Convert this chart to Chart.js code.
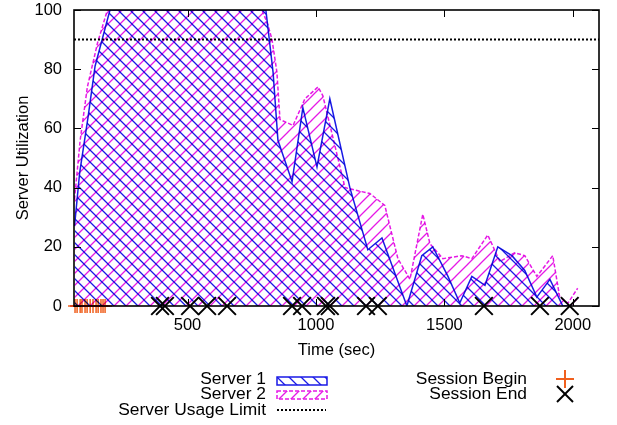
<!DOCTYPE html>
<html>
<head>
<meta charset="utf-8">
<script src="https://cdn.jsdelivr.net/npm/chart.js@4/dist/chart.umd.min.js"></script>
<style>
  html, body { margin:0; padding:0; background:#fff; }
  #wrap { position:relative; width:617px; height:425px; font-family:"Liberation Sans", Arial, sans-serif; }
  #c { position:absolute; left:0; top:0; }
  .lg { position:absolute; font-size:17.4px; line-height:15px; color:#000; white-space:nowrap; text-align:right; }
  .sw { position:absolute; }
</style>
</head>
<body>
<div id="wrap">
  <canvas id="c" width="617" height="425"></canvas>
  <div class="lg" style="right:351px; top:371px;">Server 1</div>
  <div class="lg" style="right:351px; top:386px;">Server 2</div>
  <div class="lg" style="right:351px; top:402px;">Server Usage Limit</div>
  <div class="lg" style="right:90px; top:371px;">Session Begin</div>
  <div class="lg" style="right:90px; top:386px;">Session End</div>
  <canvas class="sw" id="sw1" width="52" height="10" style="left:276px; top:376px;"></canvas>
  <canvas class="sw" id="sw2" width="52" height="10" style="left:276px; top:390px;"></canvas>
  <svg class="sw" width="52" height="6" style="left:276px; top:407px;"><line x1="1" y1="3" x2="50" y2="3" stroke="#000" stroke-width="2" stroke-dasharray="2,2"/></svg>
  <svg class="sw" width="22" height="22" style="left:554px; top:368px;"><line x1="11" y1="2" x2="11" y2="20" stroke="#f0601e" stroke-width="2"/><line x1="2" y1="11" x2="20" y2="11" stroke="#f0601e" stroke-width="2"/></svg>
  <svg class="sw" width="22" height="22" style="left:554px; top:383px;"><line x1="3" y1="3" x2="19" y2="19" stroke="#000" stroke-width="2"/><line x1="19" y1="3" x2="3" y2="19" stroke="#000" stroke-width="2"/></svg>
</div>
<script>
// ---- data ----
const server1Times = [60, 80, 113, 140, 198, 805, 833, 852, 907, 949, 1004, 1054, 1132, 1202, 1257, 1354, 1412, 1455, 1514, 1560, 1607, 1658, 1708, 1763, 1813, 1860, 1911, 1961, 1990];
const server1Util  = [27, 45, 64, 81, 100, 100, 79, 56, 42, 67, 47, 70, 40, 19, 23, 0, 17, 20, 10, 1, 10, 7, 20, 17, 12, 3, 9, 0, 0];
const server2Times = [60, 82, 110, 150, 188, 790, 813, 829, 848, 860, 911, 957, 1008, 1027, 1113, 1160, 1210, 1268, 1319, 1366, 1416, 1444, 1494, 1568, 1607, 1669, 1716, 1774, 1813, 1860, 1922, 1949, 1981, 2019];
const server2Util  = [36, 56, 74, 89, 100, 100, 95, 90, 79, 63, 61, 70, 74, 71, 40, 39, 38, 34, 16, 9, 31, 21, 16, 17, 16, 24, 15, 18, 17, 10, 17, 3, 1, 6];
const sessionBegin = [62, 70, 82, 89, 101, 109, 121, 132, 144, 152, 163, 171, 179];
const sessionEnd   = [393, 412, 510, 576, 654, 907, 946, 1039, 1054, 1195, 1241, 1654, 1872, 1988];
const usageLimit = 90;
const xRange = [58, 2102];
const xTicks = [500, 1000, 1500, 2000];
const yTicks = [0, 20, 40, 60, 80, 100];

const BLUE = '#1a1ae6';
const MAGENTA = '#e619e6';
const ORANGE = '#f0601e';

const ctx = document.getElementById('c').getContext('2d');

function hatchTile(color, dir) {
  const s = 12;
  const cv = document.createElement('canvas');
  cv.width = s; cv.height = s;
  const g = cv.getContext('2d');
  g.fillStyle = '#ffffff';
  g.fillRect(0, 0, s, s);
  g.strokeStyle = color; g.lineWidth = 1.3;
  g.beginPath();
  for (const o of [-s, 0, s]) {
    if (dir === 'back') { g.moveTo(o - 1, -1); g.lineTo(o + s + 1, s + 1); }
    else { g.moveTo(o - 1, s + 1); g.lineTo(o + s + 1, -1); }
  }
  g.stroke();
  return cv;
}
const tile1 = hatchTile(BLUE, 'back');
const tile2 = hatchTile(MAGENTA, 'fwd');
const pat1 = ctx.createPattern(tile1, 'repeat');
const pat2 = ctx.createPattern(tile2, 'repeat');

// legend swatches
(function(){
  const a = document.getElementById('sw1').getContext('2d');
  a.fillStyle = a.createPattern(tile1, 'repeat'); a.fillRect(1,1,50,8);
  a.strokeStyle = BLUE; a.lineWidth = 1.5; a.strokeRect(1,1,50,8);
  const b = document.getElementById('sw2').getContext('2d');
  b.fillStyle = b.createPattern(tile2, 'repeat'); b.fillRect(1,1,50,8);
  b.strokeStyle = MAGENTA; b.lineWidth = 1.5; b.setLineDash([4,2]); b.strokeRect(1,1,50,8);
})();

const zip = (xs, ys) => xs.map((x, i) => ({x, y: ys[i]}));

const frame = {
  id: 'frame',
  beforeDatasetsDraw(chart) {
    const {ctx, chartArea: a, scales: {x, y}} = chart;
    ctx.save();
    ctx.strokeStyle = '#000'; ctx.lineWidth = 1;
    ctx.beginPath();
    for (const v of xTicks) {
      const px = Math.round(x.getPixelForValue(v)) + 0.5;
      ctx.moveTo(px, a.bottom); ctx.lineTo(px, a.bottom - 7);
      ctx.moveTo(px, a.top); ctx.lineTo(px, a.top + 7);
    }
    for (const v of yTicks) {
      const py = Math.round(y.getPixelForValue(v)) + 0.5;
      ctx.moveTo(a.left, py); ctx.lineTo(a.left + 7, py);
      ctx.moveTo(a.right, py); ctx.lineTo(a.right - 7, py);
    }
    ctx.stroke();
    ctx.restore();
    ctx.imageSmoothingEnabled = false;
    ctx.globalCompositeOperation = 'multiply';
  },
  afterDatasetsDraw(chart) {
    const {ctx, chartArea: a} = chart;
    ctx.globalCompositeOperation = 'source-over';
    ctx.save();
    ctx.strokeStyle = '#000'; ctx.lineWidth = 1.6;
    ctx.strokeRect(a.left, a.top, a.right - a.left, a.bottom - a.top);
    ctx.restore();
  }
};

const FONT = { family: '"Liberation Sans", Arial, sans-serif', size: 16.5 };

new Chart(ctx, {
  type: 'line',
  data: {
    datasets: [
      { label: 'Session Begin', data: sessionBegin.map(t => ({x: t, y: 0})), showLine: false,
        pointStyle: 'cross', pointRadius: 7, pointBorderWidth: 1.5, borderColor: ORANGE, backgroundColor: ORANGE, clip: false, order: 0 },
      { label: 'Session End', data: sessionEnd.map(t => ({x: t, y: 0})), showLine: false,
        pointStyle: 'crossRot', pointRadius: 12.5, pointBorderWidth: 2, borderColor: '#000', backgroundColor: '#000', clip: false, order: 0 },
      { label: 'Server Usage Limit', data: [{x: xRange[0], y: usageLimit}, {x: xRange[1], y: usageLimit}],
        borderColor: '#000', borderWidth: 2, borderDash: [2, 2], pointRadius: 0, fill: false, order: 1 },
      { label: 'Server 1', data: zip(server1Times, server1Util), borderColor: BLUE, borderWidth: 1.5,
        backgroundColor: pat1, fill: 'origin', pointRadius: 0, tension: 0, order: 2 },
      { label: 'Server 2', data: zip(server2Times, server2Util), borderColor: MAGENTA, borderWidth: 1.5, borderDash: [4, 2],
        backgroundColor: pat2, fill: 'origin', pointRadius: 0, tension: 0, order: 3 }
    ]
  },
  options: {
    responsive: false,
    animation: false,
    events: [],
    layout: { autoPadding: false, padding: { left: 0, right: 18, top: 10, bottom: 0 } },
    plugins: { legend: { display: false }, tooltip: { enabled: false } },
    scales: {
      x: {
        type: 'linear', min: xRange[0], max: xRange[1],
        afterBuildTicks: s => { s.ticks = xTicks.map(v => ({value: v})); },
        afterFit: s => { s.height = 119; s.paddingLeft = 0; s.paddingRight = 0; },
        grid: { display: false, drawTicks: false },
        border: { display: false },
        ticks: { color: '#000', padding: 10, font: FONT, callback: v => String(v) },
        title: { display: true, text: 'Time (sec)', color: '#000', padding: { top: 0, bottom: 65 }, font: FONT }
      },
      y: {
        type: 'linear', min: 0, max: 100,
        afterBuildTicks: s => { s.ticks = yTicks.map(v => ({value: v})); },
        afterFit: s => { s.width = 74; s.paddingTop = 0; s.paddingBottom = 0; },
        grid: { display: false, drawTicks: false },
        border: { display: false },
        ticks: { color: '#000', padding: 12, font: FONT, callback: v => String(v) },
        title: { display: true, text: 'Server Utilization', color: '#000', padding: { top: 14, bottom: 0 }, font: FONT }
      }
    }
  },
  plugins: [frame]
});
</script>
</body>
</html>
